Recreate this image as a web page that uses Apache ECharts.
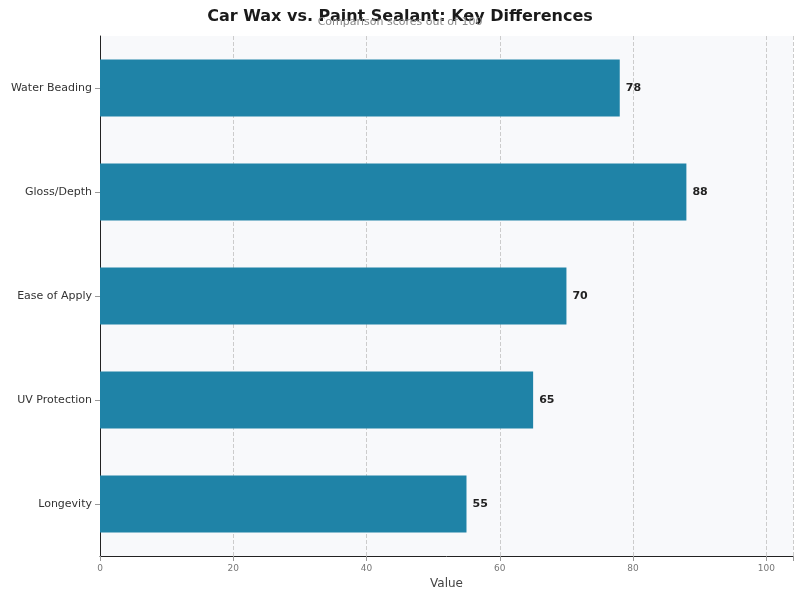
<!DOCTYPE html>
<html>
<head>
<meta charset="utf-8">
<script src="https://cdn.jsdelivr.net/npm/echarts@6/dist/echarts.min.js"></script>
<style>html,body{margin:0;padding:0;background:#fff}#chart{width:800px;height:600px}</style>
</head>
<body>
<div id="chart"></div>
<script>
// Categories listed bottom to top, as the y axis draws them
const categories = ['Longevity', 'UV Protection', 'Ease of Apply', 'Gloss/Depth', 'Water Beading'];
const scores = [55, 65, 70, 88, 78];
const xTicks = [0, 20, 40, 60, 80, 100];

const chart = echarts.init(document.getElementById('chart'));

chart.setOption({
  animation: false,
  textStyle: { fontFamily: 'DejaVu Sans' },
  title: {
    text: 'Car Wax vs. Paint Sealant: Key Differences',
    subtext: 'Comparison scores out of 100',
    left: 'center',
    top: 4,
    itemGap: -8,
    textStyle: { fontSize: 16, fontWeight: 'bold', color: '#1a1a1a' },
    subtextStyle: { fontSize: 11, color: '#888' }
  },
  grid: {
    left: 100, right: 7, top: 36, bottom: 44,
    show: true, backgroundColor: '#f8f9fb', borderWidth: 0
  },
  xAxis: {
    type: 'value',
    min: 0,
    max: 104,
    interval: 20,
    name: 'Value',
    nameLocation: 'middle',
    nameGap: 22,
    nameTextStyle: { fontSize: 12, color: '#444' },
    axisLine: { show: true, lineStyle: { color: '#222' } },
    axisTick: { show: true, lineStyle: { color: '#999' } },
    axisLabel: {
      fontSize: 9, color: '#777',
      formatter: v => (xTicks.includes(v) ? String(v) : '')
    },
    splitLine: { show: true, lineStyle: { color: '#ccc', type: 'dashed' } }
  },
  yAxis: {
    type: 'category',
    data: categories,
    axisLine: { show: true, lineStyle: { color: '#222' } },
    axisTick: { show: true, alignWithLabel: true, lineStyle: { color: '#999' } },
    axisLabel: { fontSize: 11, color: '#333' }
  },
  series: [{
    type: 'bar',
    data: scores,
    barWidth: '55%',
    itemStyle: { color: '#1f83a7' },
    label: {
      show: true, position: 'right', distance: 6,
      fontSize: 11, fontWeight: 'bold', color: '#222'
    }
  }]
});
</script>
</body>
</html>
